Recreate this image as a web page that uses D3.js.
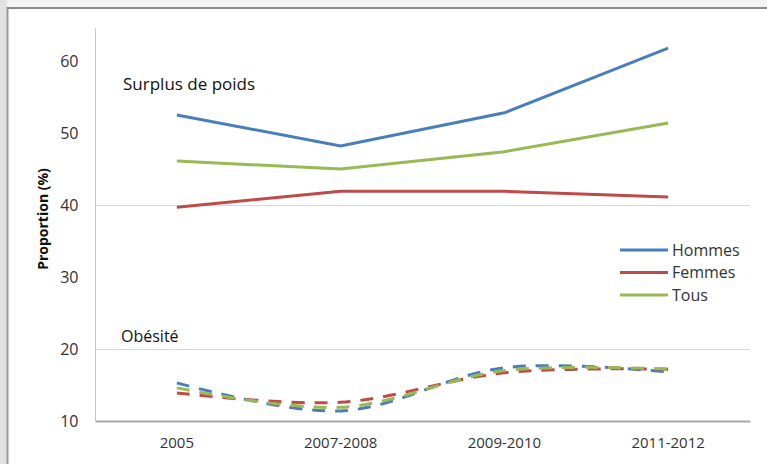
<!DOCTYPE html>
<html>
<head>
<meta charset="utf-8">
<script src="https://cdn.jsdelivr.net/npm/d3@7"></script>
<style>
  body { margin: 0; background: #f4f4f4; }
  svg { display: block; font-family: "Open Sans", sans-serif; }
</style>
</head>
<body>
<div id="chart"></div>
<script>
// categories and series
var categories = ["2005", "2007-2008", "2009-2010", "2011-2012"];
var surplusHommes = [52.5, 48.2, 52.8, 61.8];
var surplusFemmes = [39.7, 41.9, 41.9, 41.1];
var surplusTous = [46.1, 45.0, 47.4, 51.4];
var obesiteHommes = [15.3, 11.4, 17.4, 16.8];
var obesiteFemmes = [13.9, 12.6, 16.7, 17.2];
var obesiteTous = [14.6, 11.9, 17.0, 17.2];
var yTicks = [10, 20, 30, 40, 50, 60];
var gridTicks = [20, 40];
var seriesNames = ["Hommes", "Femmes", "Tous"];

var width = 767,
    height = 464,
    colors = ["#4a7ebb", "#be4b48", "#98b954"];

var svg = d3.select("#chart").append("svg")
    .attr("width", width)
    .attr("height", height);

// outer background + chart frame
svg.append("rect").attr("x", 0).attr("y", 0).attr("width", 7).attr("height", height).attr("fill", "#e2e2e2");
svg.append("rect").attr("x", 7).attr("y", 7).attr("width", width).attr("height", height)
    .attr("fill", "#fff");
svg.append("line").attr("x1", 7.5).attr("x2", 7.5).attr("y1", 7).attr("y2", height)
    .attr("stroke", "#9a9a9a").attr("stroke-width", 2);
svg.append("line").attr("x1", 7).attr("x2", width).attr("y1", 8).attr("y2", 8)
    .attr("stroke", "#8a8a8a").attr("stroke-width", 2);

var x = d3.scaleBand().domain(categories).range([95, 750]);
var y = d3.scaleLinear().domain([10, 65]).range([421, 25]);

var g = svg.append("g");

// gridlines
g.selectAll(".grid").data(gridTicks).enter().append("line")
    .attr("x1", 95).attr("x2", 750)
    .attr("y1", function(d) { return Math.round(y(d)) + 0.5; })
    .attr("y2", function(d) { return Math.round(y(d)) + 0.5; })
    .attr("stroke", "#d9d9d9");

// y axis
var yAxis = g.append("g")
    .attr("transform", "translate(95.5,0)")
    .call(d3.axisLeft(y).tickValues(yTicks).tickSize(0).tickPadding(17));
yAxis.select(".domain").attr("stroke", "#c8c8c8").attr("d", "M0," + y(10) + "V28");
yAxis.selectAll("text").attr("font-size", 16).attr("fill", "#333").attr("font-family", "Open Sans");

// x axis
var xAxis = g.append("g")
    .attr("transform", "translate(0," + y(10) + ")")
    .call(d3.axisBottom(x).tickSize(0).tickPadding(16));
xAxis.select(".domain").attr("stroke", "#a8a8a8").attr("stroke-width", 2);
xAxis.selectAll("text").attr("font-size", 15).attr("fill", "#333").attr("font-family", "Open Sans");

// axis title
g.append("text")
    .attr("transform", "translate(48,219) rotate(-90)")
    .attr("text-anchor", "middle")
    .attr("font-size", 14).attr("font-weight", "bold").attr("fill", "#111")
    .text("Proportion (%)");

var line = d3.line()
    .x(function(d, i) { return x(categories[i]) + x.bandwidth() / 2; })
    .y(function(d) { return y(d); });
var smooth = d3.line()
    .x(function(d, i) { return x(categories[i]) + x.bandwidth() / 2; })
    .y(function(d) { return y(d); })
    .curve(d3.curveCatmullRom.alpha(0));

var surplus = [surplusHommes, surplusFemmes, surplusTous];
var obesite = [obesiteHommes, obesiteFemmes, obesiteTous];

g.selectAll(".surplus").data(surplus).enter().append("path")
    .attr("d", line)
    .attr("fill", "none")
    .attr("stroke", function(d, i) { return colors[i]; })
    .attr("stroke-width", 3);

g.selectAll(".obesite").data(obesite).enter().append("path")
    .attr("d", smooth)
    .attr("fill", "none")
    .attr("stroke", function(d, i) { return colors[i]; })
    .attr("stroke-width", 3)
    .attr("stroke-dasharray", "13,10");

// labels
g.append("text").attr("x", 123).attr("y", 90).attr("font-size", 17).attr("fill", "#111")
    .text("Surplus de poids");
g.append("text").attr("x", 121).attr("y", 342).attr("font-size", 16).attr("fill", "#111")
    .text("Obésité");

// legend
var legend = g.selectAll(".legend").data(seriesNames).enter().append("g")
    .attr("transform", function(d, i) { return "translate(620," + (250 + i * 22.5) + ")"; });
legend.append("line").attr("x1", 0).attr("x2", 48)
    .attr("stroke", function(d, i) { return colors[i]; }).attr("stroke-width", 3);
legend.append("text").attr("x", 52).attr("dy", "0.35em")
    .attr("font-size", 16).attr("fill", "#333")
    .text(function(d) { return d; });
</script>
</body>
</html>
